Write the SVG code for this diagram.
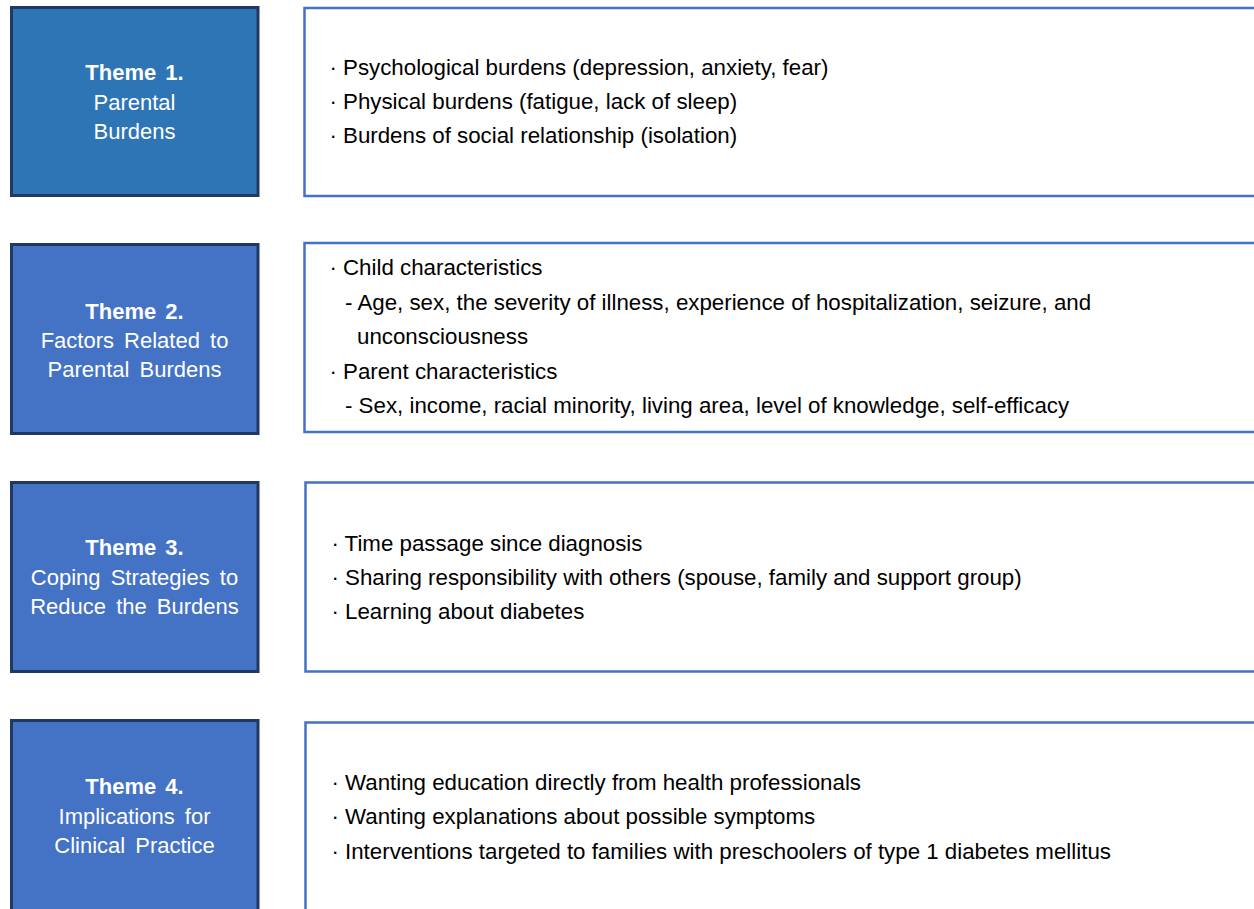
<svg xmlns="http://www.w3.org/2000/svg" width="1254" height="909" viewBox="0 0 1254 909">
<style>
.theme{stroke:#203864;stroke-width:3}
.t1{fill:#2E75B6}
.tn{fill:#4472C4}
.content{fill:#FFFFFF;stroke:#4472C4;stroke-width:2.5}
.tt{font-family:"Liberation Sans",Arial,sans-serif;font-size:22px;fill:#FFFFFF;text-anchor:middle;word-spacing:4px}
.tb{font-weight:bold;word-spacing:3px}
.ct{font-family:"Liberation Sans",Arial,sans-serif;font-size:22.3px;fill:#000000}
</style>
<rect width="1254" height="909" fill="#FFFFFF"/>
<g id="connectors"></g>
<g id="theme1">
<rect class="theme t1" x="11.5" y="7.5" width="246.5" height="188"/>
<text class="tt"><tspan class="tb" x="134.5" y="80">Theme  1.</tspan><tspan x="134.5" y="109.5">Parental</tspan><tspan x="134.5" y="138.5">Burdens</tspan></text>
</g>
<g id="content1">
<rect class="content" x="304.5" y="8" width="1000" height="188"/>
<text class="ct"><tspan x="329.4" y="75">· Psychological burdens (depression, anxiety, fear)</tspan><tspan x="329.4" y="109">· Physical burdens (fatigue, lack of sleep)</tspan><tspan x="329.4" y="143">· Burdens of social relationship (isolation)</tspan></text>
</g>
<g id="theme2">
<rect class="theme tn" x="11.5" y="244.5" width="246.5" height="189"/>
<text class="tt"><tspan class="tb" x="134.5" y="318.5">Theme  2.</tspan><tspan x="134.5" y="347.5">Factors Related to</tspan><tspan x="134.5" y="377">Parental Burdens</tspan></text>
</g>
<g id="content2">
<rect class="content" x="304.5" y="243" width="1000" height="189"/>
<text class="ct"><tspan x="329.4" y="275">· Child characteristics</tspan><tspan x="345" y="310">- Age, sex, the severity of illness, experience of hospitalization, seizure, and</tspan><tspan x="357" y="344">unconsciousness</tspan><tspan x="329.4" y="379">· Parent characteristics</tspan><tspan x="345" y="413">- Sex, income, racial minority, living area, level of knowledge, self-efficacy</tspan></text>
</g>
<g id="theme3">
<rect class="theme tn" x="11.5" y="482.5" width="246.5" height="189"/>
<text class="tt"><tspan class="tb" x="134.5" y="555">Theme  3.</tspan><tspan x="134.5" y="584.5">Coping Strategies to</tspan><tspan x="134.5" y="613.5">Reduce the Burdens</tspan></text>
</g>
<g id="content3">
<rect class="content" x="305.5" y="482.5" width="1000" height="189"/>
<text class="ct"><tspan x="331.4" y="551">· Time passage since diagnosis</tspan><tspan x="331.4" y="585">· Sharing responsibility with others (spouse, family and support group)</tspan><tspan x="331.4" y="619">· Learning about diabetes</tspan></text>
</g>
<g id="theme4">
<rect class="theme tn" x="11.5" y="720.5" width="246.5" height="200"/>
<text class="tt"><tspan class="tb" x="134.5" y="794">Theme  4.</tspan><tspan x="134.5" y="823.5">Implications for</tspan><tspan x="134.5" y="852.5">Clinical Practice</tspan></text>
</g>
<g id="content4">
<rect class="content" x="305.5" y="722.5" width="1000" height="200"/>
<text class="ct"><tspan x="331.4" y="790">· Wanting education directly from health professionals</tspan><tspan x="331.4" y="824">· Wanting explanations about possible symptoms</tspan><tspan x="331.4" y="859">· Interventions targeted to families with preschoolers of type 1 diabetes mellitus</tspan></text>
</g>
</svg>
